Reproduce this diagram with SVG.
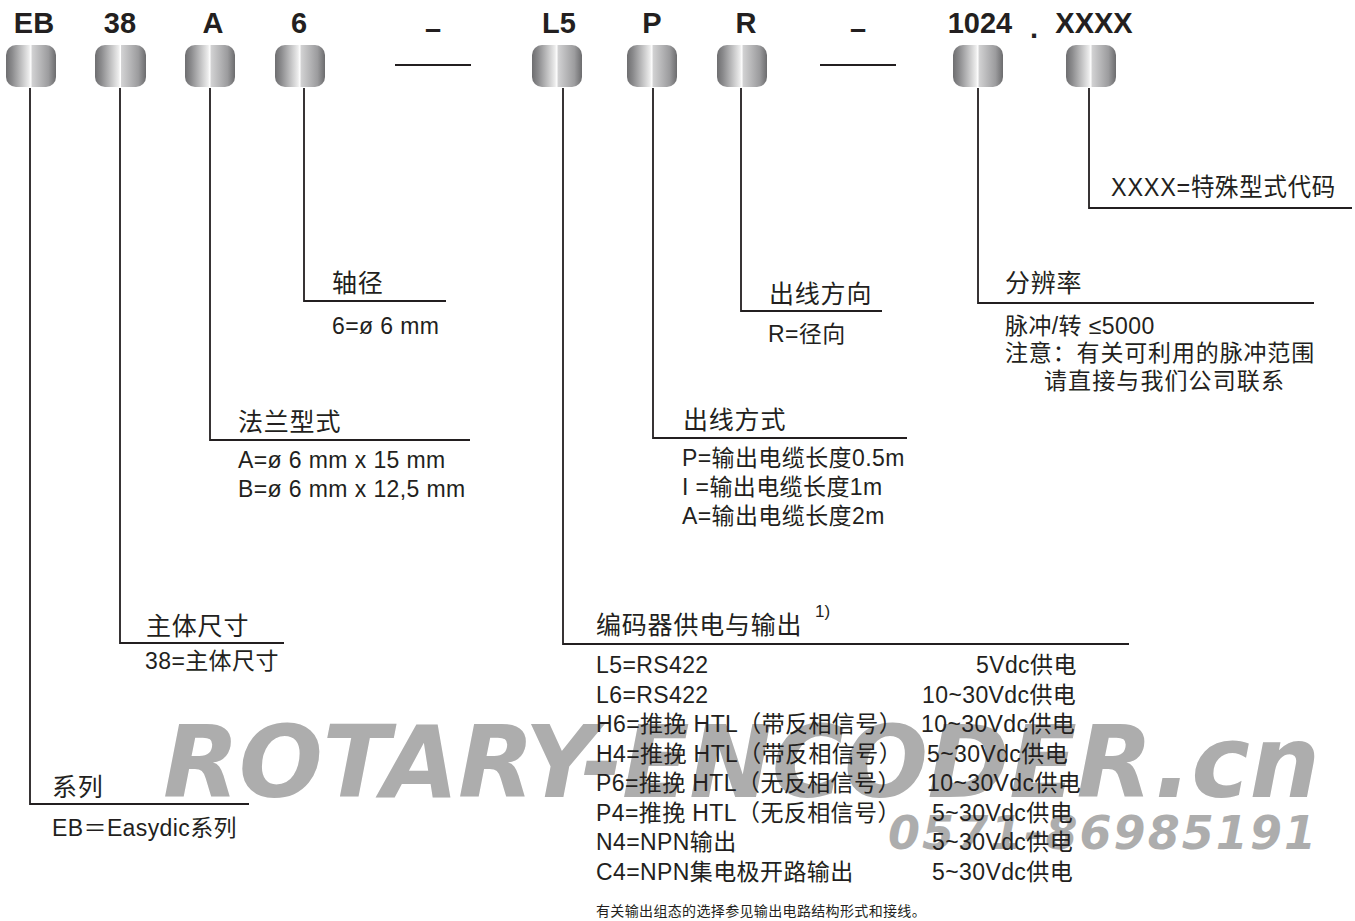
<svg xmlns="http://www.w3.org/2000/svg" width="1355" height="921" viewBox="0 0 1355 921">
<defs>
<linearGradient id="btn" x1="0" y1="0" x2="1" y2="0">
<stop offset="0" stop-color="#6e6e70"/>
<stop offset="0.12" stop-color="#8a8a8c"/>
<stop offset="0.46" stop-color="#ececec"/>
<stop offset="0.5" stop-color="#ffffff"/>
<stop offset="0.52" stop-color="#d2d2d3"/>
<stop offset="0.85" stop-color="#9c9c9e"/>
<stop offset="1" stop-color="#6c6c6e"/>
</linearGradient>
</defs>
<style>
.btn{fill:url(#btn)}
.code{font-family:"Liberation Sans",Arial,sans-serif;font-weight:bold;font-size:29px;fill:#231f20;text-anchor:middle}
.ttl{font-family:"Liberation Sans","Noto Sans CJK SC",sans-serif;font-size:25px;letter-spacing:0.8px;fill:#231f20}
.d{font-family:"Liberation Sans","Noto Sans CJK SC",sans-serif;font-size:23px;letter-spacing:0.4px;fill:#231f20}
.note{font-family:"Liberation Sans","Noto Sans CJK SC",sans-serif;font-size:14px;fill:#231f20}
.wm{font-family:"DejaVu Sans",Verdana,sans-serif;font-weight:bold;font-style:italic;fill:#adadad}
.ln{fill:none;stroke:#231f20;stroke-width:1.8}
</style>
<rect width="1355" height="921" fill="#ffffff"/>

<g id="watermark">
<text class="wm" x="163" y="797" font-size="99" textLength="1157" lengthAdjust="spacing">ROTARY-ENCODER.cn</text>
<text class="wm" x="888" y="849" font-size="46" textLength="428" lengthAdjust="spacing">0571-86985191</text>
</g>

<g id="connectors">
<path class="ln" d="M30 88 V804 H249"/>
<path class="ln" d="M120 88 V643 H284"/>
<path class="ln" d="M210 88 V440 H470"/>
<path class="ln" d="M304 88 V301 H446"/>
<path class="ln" d="M563 88 V644 H1129"/>
<path class="ln" d="M653 88 V438 H907"/>
<path class="ln" d="M741 88 V311 H882"/>
<path class="ln" d="M978 88 V303 H1314"/>
<path class="ln" d="M1089 88 V208 H1352"/>
</g>

<g id="code-EB"><text class="code" x="34" y="33">EB</text><rect class="btn" x="6" y="45" width="50" height="42" rx="10"/></g>
<g id="code-38"><text class="code" x="120" y="33">38</text><rect class="btn" x="95" y="45" width="51" height="42" rx="10"/></g>
<g id="code-A"><text class="code" x="213" y="33">A</text><rect class="btn" x="185" y="45" width="50" height="42" rx="10"/></g>
<g id="code-6"><text class="code" x="299" y="33">6</text><rect class="btn" x="275" y="45" width="50" height="42" rx="10"/></g>
<g id="sep-1"><text class="code" x="433" y="39">–</text><line class="ln" x1="395" y1="65" x2="471" y2="65"/></g>
<g id="code-L5"><text class="code" x="559" y="33">L5</text><rect class="btn" x="532" y="45" width="50" height="42" rx="10"/></g>
<g id="code-P"><text class="code" x="652" y="33">P</text><rect class="btn" x="627" y="45" width="50" height="42" rx="10"/></g>
<g id="code-R"><text class="code" x="746" y="33">R</text><rect class="btn" x="717" y="45" width="50" height="42" rx="10"/></g>
<g id="sep-2"><text class="code" x="858" y="39">–</text><line class="ln" x1="820" y1="65" x2="896" y2="65"/></g>
<g id="code-1024"><text class="code" x="980" y="33">1024</text><rect class="btn" x="953" y="45" width="50" height="42" rx="10"/></g>
<g id="code-dot"><text class="code" x="1034" y="38">.</text></g>
<g id="code-XXXX"><text class="code" x="1094" y="33">XXXX</text><rect class="btn" x="1066" y="45" width="50" height="42" rx="10"/></g>

<g id="desc-XXXX">
<text class="ttl" x="1111" y="196" textLength="225" lengthAdjust="spacingAndGlyphs">XXXX=特殊型式代码</text>
</g>

<g id="desc-shaft">
<text class="ttl" x="332" y="292">轴径</text>
<text class="d" x="332" y="334">6=ø 6 mm</text>
</g>

<g id="desc-direction">
<text class="ttl" x="769" y="303">出线方向</text>
<text class="d" x="768" y="342">R=径向</text>
</g>

<g id="desc-resolution">
<text class="ttl" x="1005" y="292">分辨率</text>
<text class="d" x="1005" y="334">脉冲/转 ≤5000</text>
<text class="d" x="1005" y="361" style="letter-spacing:0.85px">注意：有关可利用的脉冲范围</text>
<text class="d" x="1044" y="389" style="letter-spacing:1.1px">请直接与我们公司联系</text>
</g>

<g id="desc-flange">
<text class="ttl" x="238" y="431">法兰型式</text>
<text class="d" x="238" y="468">A=ø 6 mm x 15 mm</text>
<text class="d" x="238" y="497">B=ø 6 mm x 12,5 mm</text>
</g>

<g id="desc-cable">
<text class="ttl" x="683" y="429">出线方式</text>
<text class="d" x="682" y="466">P=输出电缆长度0.5m</text>
<text class="d" x="682" y="495">I =输出电缆长度1m</text>
<text class="d" x="682" y="524">A=输出电缆长度2m</text>
</g>

<g id="desc-body">
<text class="ttl" x="146" y="635">主体尺寸</text>
<text class="d" x="145" y="669">38=主体尺寸</text>
</g>

<g id="desc-series">
<text class="ttl" x="52" y="796">系列</text>
<text class="d" x="52" y="836">EB＝Easydic系列</text>
</g>

<g id="desc-output">
<text class="ttl" x="596" y="634">编码器供电与输出</text>
<text class="note" x="815" y="617" style="font-size:17px">1)</text>
<text class="d" x="596" y="673">L5=RS422</text><text class="d" x="976" y="673">5Vdc供电</text>
<text class="d" x="596" y="703">L6=RS422</text><text class="d" x="922" y="703">10~30Vdc供电</text>
<text class="d" x="596" y="732">H6=推挽 HTL（带反相信号）</text><text class="d" x="921" y="732">10~30Vdc供电</text>
<text class="d" x="596" y="762">H4=推挽 HTL（带反相信号）</text><text class="d" x="927" y="762">5~30Vdc供电</text>
<text class="d" x="596" y="791">P6=推挽 HTL（无反相信号）</text><text class="d" x="927" y="791">10~30Vdc供电</text>
<text class="d" x="596" y="821">P4=推挽 HTL（无反相信号）</text><text class="d" x="932" y="821">5~30Vdc供电</text>
<text class="d" x="596" y="850">N4=NPN输出</text><text class="d" x="932" y="850">5~30Vdc供电</text>
<text class="d" x="596" y="880">C4=NPN集电极开路输出</text><text class="d" x="932" y="880">5~30Vdc供电</text>
<text class="note" x="596" y="916" style="letter-spacing:0.35px">有关输出组态的选择参见输出电路结构形式和接线。</text>
</g>
</svg>
